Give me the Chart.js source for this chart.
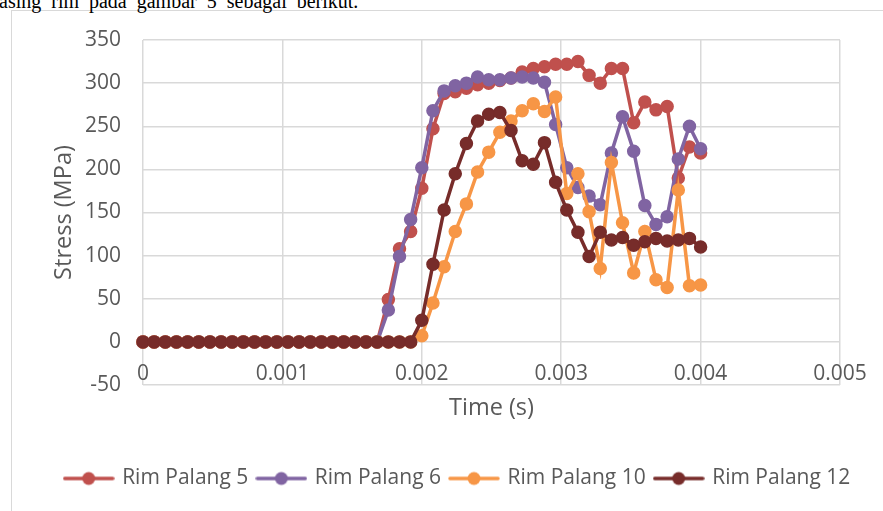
<!DOCTYPE html>
<html>
<head>
<meta charset="utf-8">
<script src="https://cdn.jsdelivr.net/npm/chart.js@4.4.1/dist/chart.umd.min.js"></script>
<style>
  html, body { margin: 0; padding: 0; background: #fff; overflow: hidden; width: 883px; height: 511px; }
  .frame { position: absolute; left: 11px; top: 10px; width: 960px; height: 560px; border: 1px solid #d9d9d9; background: #fff; }
  .lead { position: absolute; left: -1px; top: -9px; font-family: "Liberation Serif", serif; font-size: 20px; line-height: 20px; word-spacing: 5px; color: #000; white-space: nowrap; }
  #chart { position: absolute; left: 0; top: 0; }
</style>
</head>
<body>
<div class="frame"></div>
<div class="lead">asing rim pada gambar 5 sebagai berikut.</div>
<canvas id="chart" width="916" height="511"></canvas>
<script>
// Time samples (s)
const time = [0, 0.00008, 0.00016, 0.00024, 0.00032, 0.0004, 0.00048, 0.00056, 0.00064, 0.00072,
  0.0008, 0.00088, 0.00096, 0.00104, 0.00112, 0.0012, 0.00128, 0.00136, 0.00144, 0.00152,
  0.0016, 0.00168, 0.00176, 0.00184, 0.00192, 0.002, 0.00208, 0.00216, 0.00224, 0.00232,
  0.0024, 0.00248, 0.00256, 0.00264, 0.00272, 0.0028, 0.00288, 0.00296, 0.00304, 0.00312,
  0.0032, 0.00328, 0.00336, 0.00344, 0.00352, 0.0036, 0.00368, 0.00376, 0.00384, 0.00392, 0.004];

// Stress (MPa) per rim
const rimPalang5 = [0, 0, 0, 0, 0, 0, 0, 0, 0, 0, 0, 0, 0, 0, 0, 0, 0, 0, 0, 0, 0, 0,
  49, 108, 128, 178, 247, 288, 290, 294, 298, 300, 303, 306, 313, 317, 319, 322, 322, 325,
  309, 300, 317, 317, 254, 278, 269, 273, 190, 226, 219];
const rimPalang6 = [0, 0, 0, 0, 0, 0, 0, 0, 0, 0, 0, 0, 0, 0, 0, 0, 0, 0, 0, 0, 0, 0,
  37, 99, 142, 202, 268, 291, 297, 300, 307, 304, 304, 306, 307, 306, 301, 252, 202, 179,
  169, 159, 219, 261, 221, 158, 136, 145, 212, 250, 224];
const rimPalang10 = [0, 0, 0, 0, 0, 0, 0, 0, 0, 0, 0, 0, 0, 0, 0, 0, 0, 0, 0, 0, 0, 0, 0, 0, 0,
  7, 45, 87, 128, 160, 197, 220, 243, 256, 268, 276, 267, 284, 172, 195,
  151, 85, 208, 138, 80, 128, 72, 63, 176, 65, 66];
const rimPalang12 = [0, 0, 0, 0, 0, 0, 0, 0, 0, 0, 0, 0, 0, 0, 0, 0, 0, 0, 0, 0, 0, 0, 0, 0, 0,
  25, 90, 153, 195, 230, 256, 264, 266, 245, 210, 206, 231, 185, 153, 127,
  99, 127, 118, 121, 112, 116, 120, 117, 118, 120, 110];

const seriesNames = ['Rim Palang 5', 'Rim Palang 6', 'Rim Palang 10', 'Rim Palang 12'];
const seriesColors = ['#c0504d', '#8064a2', '#f79646', '#772c2a'];
const seriesValues = [rimPalang5, rimPalang6, rimPalang10, rimPalang12];

const xTicks = { min: 0, max: 0.005, step: 0.001 };
const yTicks = { min: -50, max: 350, step: 50 };

const textColor = '#595959';
const gridColor = '#d9d9d9';
const family = "'Open Sans', sans-serif";

// Line-with-marker swatch used in the legend
function legendSwatch(color) {
  const c = document.createElement('canvas');
  c.width = 52; c.height = 16;
  const g = c.getContext('2d');
  g.strokeStyle = color; g.lineWidth = 3.5; g.lineCap = 'round';
  g.beginPath(); g.moveTo(2, 8); g.lineTo(50, 8); g.stroke();
  g.fillStyle = color;
  g.beginPath(); g.arc(26, 8, 6.5, 0, Math.PI * 2); g.fill();
  return c;
}
const swatches = seriesColors.map(legendSwatch);

const datasets = seriesValues.map((vals, i) => ({
  label: seriesNames[i],
  data: vals.map((v, k) => ({ x: time[k], y: v })),
  borderColor: seriesColors[i],
  backgroundColor: seriesColors[i],
  pointBackgroundColor: seriesColors[i],
  pointBorderColor: seriesColors[i],
  borderWidth: 3.5,
  pointRadius: 6,
  pointBorderWidth: 1.5,
  showLine: true,
  tension: 0,
  clip: false,
  order: seriesValues.length - i
}));

new Chart(document.getElementById('chart'), {
  type: 'scatter',
  data: { datasets },
  options: {
    responsive: false,
    devicePixelRatio: 1,
    animation: false,
    layout: { padding: { left: 0, right: 0, top: 40, bottom: 12 } },
    plugins: {
      tooltip: { enabled: false },
      legend: {
        position: 'bottom',
        labels: {
          usePointStyle: true,
          pointStyleWidth: 46,
          padding: 10,
          color: textColor,
          font: { family, size: 21 },
          generateLabels(chart) {
            const items = Chart.defaults.plugins.legend.labels.generateLabels(chart);
            items.forEach(it => { it.pointStyle = swatches[it.datasetIndex]; });
            return items.sort((a, b) => a.datasetIndex - b.datasetIndex);
          }
        }
      }
    },
    scales: {
      x: {
        type: 'linear',
        min: xTicks.min,
        max: xTicks.max,
        ticks: {
          stepSize: xTicks.step,
          mirror: true,
          padding: -2,
          color: textColor,
          font: { family, size: 21 },
          maxRotation: 0,
          callback: v => String(Number(v.toFixed(4)))
        },
        grid: { color: gridColor, lineWidth: 1.5, drawTicks: false },
        border: { display: false },
        title: {
          display: true, text: 'Time (s)', color: textColor,
          font: { family, size: 23.5 }, padding: { top: 0, bottom: 36 }
        },
        afterFit(s) { s.height = 73; s.paddingRight = 76; s.paddingLeft = 0; }
      },
      y: {
        min: yTicks.min,
        max: yTicks.max,
        ticks: {
          stepSize: yTicks.step,
          padding: 22,
          color: textColor,
          font: { family, size: 21 }
        },
        grid: { color: gridColor, lineWidth: 1.5, drawTicks: false },
        border: { display: false },
        title: {
          display: true, text: 'Stress (MPa)', color: textColor,
          font: { family, size: 23.5 }, padding: { top: 50, bottom: 0 }
        },
        afterFit(s) { s.width = 143; }
      }
    }
  }
});
</script>
</body>
</html>
